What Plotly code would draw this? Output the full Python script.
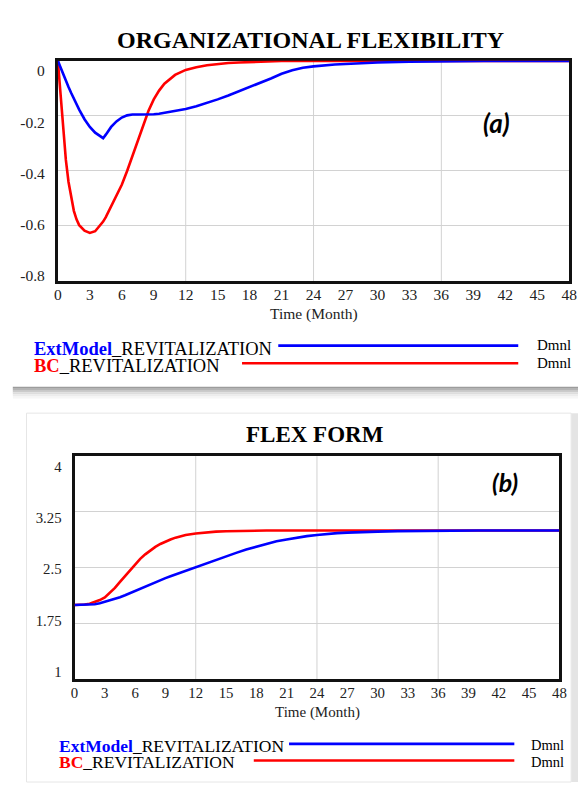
import plotly.graph_objects as go

W, H = 586, 792

# ---------------- data: panel (a) ORGANIZATIONAL FLEXIBILITY ----------------
months_a = [0, 0.25, 0.5, 0.75, 1, 1.25, 1.5, 1.75, 2, 2.5, 3, 3.5, 4, 4.25, 4.5,
            5, 5.5, 6, 6.5, 7, 7.5, 8, 8.5, 9, 9.5, 10, 11, 12, 13, 14, 15, 16,
            17, 18, 19, 20, 21, 22, 23, 24, 26, 28, 30, 33, 36, 40, 44, 48]
ext_a = [0, -0.025, -0.05, -0.073, -0.095, -0.117, -0.138, -0.158, -0.177, -0.212,
         -0.240, -0.261, -0.276, -0.281, -0.268, -0.240, -0.220, -0.206, -0.198,
         -0.195, -0.195, -0.195, -0.195, -0.194, -0.192, -0.189, -0.183, -0.175,
         -0.165, -0.153, -0.140, -0.126, -0.111, -0.096, -0.081, -0.064, -0.047,
         -0.034, -0.025, -0.020, -0.013, -0.009, -0.006, -0.003, -0.001, 0, 0, 0]
bc_a = [0, -0.12, -0.25, -0.36, -0.44, -0.50, -0.545, -0.576, -0.597, -0.617,
        -0.625, -0.619, -0.598, -0.584, -0.568, -0.530, -0.490, -0.450, -0.400,
        -0.345, -0.288, -0.232, -0.182, -0.140, -0.108, -0.083, -0.051, -0.033,
        -0.023, -0.016, -0.011, -0.008, -0.006, -0.004, -0.002, -0.001, 0,
        0, 0, 0, 0, 0, 0, 0, 0, 0, 0, 0]
y_ticks_a = [0, -0.2, -0.4, -0.6, -0.8]
y_labels_a = ["0", "-0.2", "-0.4", "-0.6", "-0.8"]

# ---------------- data: panel (b) FLEX FORM ----------------
months_b = [0, 0.5, 1, 1.5, 2, 2.5, 3, 3.5, 4, 4.5, 5, 5.5, 6, 6.5, 7, 7.5, 8,
            8.5, 9, 9.5, 10, 11, 12, 13, 14, 15, 16, 17, 18, 19, 20, 21, 22, 23,
            24, 25, 26, 27, 28, 30, 32, 34, 36, 40, 44, 48]
ext_b = [2.0, 2.0, 2.0, 2.004, 2.01, 2.022, 2.04, 2.058, 2.08, 2.104, 2.13, 2.16,
         2.19, 2.22, 2.25, 2.275, 2.30, 2.33, 2.36, 2.385, 2.41, 2.46, 2.51, 2.56,
         2.61, 2.655, 2.70, 2.745, 2.785, 2.82, 2.855, 2.88, 2.905, 2.925, 2.94,
         2.955, 2.965, 2.972, 2.978, 2.986, 2.992, 2.996, 3.0, 3.0, 3.0, 3.0]
bc_b = [2.0, 2.0, 2.005, 2.015, 2.035, 2.065, 2.10, 2.16, 2.23, 2.31, 2.39, 2.47,
        2.545, 2.62, 2.68, 2.735, 2.78, 2.82, 2.855, 2.88, 2.905, 2.94, 2.96,
        2.975, 2.985, 2.99, 2.995, 2.998, 3.0, 3.0, 3.0, 3.0, 3.0, 3.0, 3.0, 3.0,
        3.0, 3.0, 3.0, 3.0, 3.0, 3.0, 3.0, 3.0, 3.0, 3.0]
y_ticks_b = [4, 3.25, 2.5, 1.75, 1]
y_labels_b = ["4", "3.25", "2.5", "1.75", "1"]

x_ticks = list(range(0, 49, 3))
grid_months = [12, 24, 36]

BLUE = "#0000ff"
RED = "#ff0000"
SERIF = "Liberation Serif"
GRID = "#d2d2d2"


def px(x):
    return x / W


def py(y):
    return 1 - y / H


fig = go.Figure()

# main series (red first so the blue run sits on top where they coincide)
for xa, ya, months, ext, bc in (("x", "y", months_a, ext_a, bc_a),
                               ("x2", "y2", months_b, ext_b, bc_b)):
    fig.add_trace(go.Scatter(x=months, y=bc, xaxis=xa, yaxis=ya, mode="lines",
                             line=dict(color=RED, width=2.6), showlegend=False,
                             hoverinfo="skip"))
    fig.add_trace(go.Scatter(x=months, y=ext, xaxis=xa, yaxis=ya, mode="lines",
                             line=dict(color=BLUE, width=2.6), showlegend=False,
                             hoverinfo="skip"))

# transparent copies that carry the offset value-label axes
fig.add_trace(go.Scatter(x=months_a, y=bc_a, xaxis="x", yaxis="y3", mode="lines",
                         line=dict(width=0), opacity=0, showlegend=False,
                         hoverinfo="skip"))
fig.add_trace(go.Scatter(x=months_b, y=bc_b, xaxis="x2", yaxis="y4", mode="lines",
                         line=dict(width=0), opacity=0, showlegend=False,
                         hoverinfo="skip"))

frame = dict(showline=True, mirror=True, linecolor="#111", linewidth=2.5,
             zeroline=False, fixedrange=True)


def xaxis(dom, anchor, size):
    return dict(domain=dom, anchor=anchor, range=[0, 48], tickvals=x_ticks,
                showgrid=False, ticks="", ticklabelstandoff=-2,
                tickfont=dict(family=SERIF, size=size, color="#222"),
                layer="below traces", **frame)


def yaxis(dom, anchor, rng, vals):
    return dict(domain=dom, anchor=anchor, range=rng, tickvals=vals,
                showgrid=True, gridcolor=GRID, gridwidth=1,
                showticklabels=False, ticks="", layer="below traces", **frame)


def label_axis(dom, pos, rng, vals, text, size):
    return dict(domain=dom, anchor="free", position=pos, range=rng,
                tickvals=vals, ticktext=text, showgrid=False, showline=False,
                zeroline=False, ticks="outside", ticklen=10,
                tickcolor="rgba(0,0,0,0)", fixedrange=True,
                tickfont=dict(family=SERIF, size=size, color="#222"))


fig.update_layout(
    width=W, height=H, margin=dict(l=0, r=0, t=0, b=0),
    paper_bgcolor="white", plot_bgcolor="rgba(0,0,0,0)", showlegend=False,
    xaxis=xaxis([px(55), px(577)], "y", 15.5),
    yaxis=yaxis([py(278), py(53)], "x", [-0.8, 0], y_ticks_a),
    yaxis3=label_axis([py(272.3), py(63.3)], px(55), [-0.8, 0], y_ticks_a,
                      y_labels_a, 15.5),
    xaxis2=xaxis([px(72), px(567)], "y2", 14.8),
    yaxis2=yaxis([py(685), py(457)], "x2", [1, 4], y_ticks_b),
    yaxis4=label_axis([py(677), py(468)], px(72), [1, 4], y_ticks_b,
                      y_labels_b, 14.8),
)

shapes = []
# card backgrounds and shadows
shadow = ["#9c9c9c", "#b4b4b4", "#cbcbcb", "#dddddd", "#ececec", "#f6f6f6"]
for i, c in enumerate(shadow):
    shapes.append(dict(type="rect", xref="paper", yref="paper", layer="below",
                       x0=px(9), x1=1, y0=py(386 + 2 * i), y1=py(386 + 2 * i + 2),
                       fillcolor=c, line=dict(width=0)))
shapes.append(dict(type="rect", xref="paper", yref="paper", layer="below",
                   x0=px(579), x1=1, y0=py(790), y1=py(413),
                   fillcolor="#e4e4e4", line=dict(width=0)))
shapes.append(dict(type="rect", xref="paper", yref="paper", layer="below",
                   x0=px(23), x1=px(579), y0=py(790), y1=py(413),
                   fillcolor="white", line=dict(color="#e6e6e6", width=1)))

# vertical grid lines every 12 months
for xr, yr in (("x", "y domain"), ("x2", "y2 domain")):
    for m in grid_months:
        shapes.append(dict(type="line", xref=xr, yref=yr, x0=m, x1=m, y0=0, y1=1,
                           layer="below", line=dict(color=GRID, width=1)))

# legend keys
legend_keys = [
    (280, 525, 344, BLUE), (243, 525, 362, RED),
    (291, 521, 751, BLUE), (255, 521, 768, RED),
]
for x0, x1, y, c in legend_keys:
    shapes.append(dict(type="line", xref="paper", yref="paper", x0=px(x0),
                       x1=px(x1), y0=py(y), y1=py(y),
                       line=dict(color=c, width=2.6)))

fig.update_layout(shapes=shapes)

ann = []


def text(x, y, s, size, anchor="center", family=SERIF, color="black",
         weight="normal", style="normal"):
    ann.append(dict(xref="paper", yref="paper", x=px(x), y=py(y), text=s,
                    showarrow=False, xanchor=anchor, yanchor="middle",
                    font=dict(family=family, size=size, color=color,
                              weight=weight, style=style)))


# panel (a)
text(313, 32, "ORGANIZATIONAL FLEXIBILITY", 24, weight="bold")
text(316, 312, "Time (Month)", 15.5, color="#222")
text(503, 117, "(a)", 26, family="Lato", weight="bold", style="italic")
text(29, 347, f"<b><span style='color:{BLUE}'>ExtModel</span></b>_REVITALIZATION",
     18.5, anchor="left")
text(29, 365, f"<b><span style='color:{RED}'>BC</span></b>_REVITALIZATION",
     18.5, anchor="left")
text(581, 343, "Dmnl", 15, anchor="right")
text(581, 362, "Dmnl", 15, anchor="right")

# panel (b)
text(318, 435, "FLEX FORM", 23, weight="bold")
text(320, 719, "Time (Month)", 15, color="#222")
text(511, 483, "(b)", 25, family="Lato", weight="bold", style="italic")
text(54, 753, f"<b><span style='color:{BLUE}'>ExtModel</span></b>_REVITALIZATION",
     17.5, anchor="left")
text(54, 770, f"<b><span style='color:{RED}'>BC</span></b>_REVITALIZATION",
     17.5, anchor="left")
text(574, 752, "Dmnl", 14.5, anchor="right")
text(574, 770, "Dmnl", 14.5, anchor="right")

fig.update_layout(annotations=ann)

fig.write_html("out.html")
